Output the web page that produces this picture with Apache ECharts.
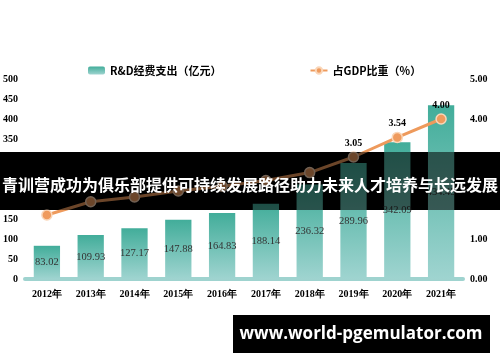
<!DOCTYPE html>
<html>
<head>
<meta charset="utf-8">
<script src="https://cdn.jsdelivr.net/npm/echarts@6/dist/echarts.min.js"></script>
<style>
html,body{margin:0;padding:0;background:#fff;}
#chart{width:500px;height:362px;}
</style>
</head>
<body>
<div id="chart"></div>
<script>
var categories = ['2012年','2013年','2014年','2015年','2016年','2017年','2018年','2019年','2020年','2021年'];
var rdSpend = [83.02,109.93,127.17,147.88,164.83,188.14,236.32,289.96,342.09,434.45];
var gdpShare = [1.60,1.93,2.05,2.20,2.32,2.46,2.66,3.05,3.54,4.00];
var seriesNames = ['R&D经费支出（亿元）','占GDP比重（%）'];
var bannerText = '青训营成功为俱乐部提供可持续发展路径助力未来人才培养与长远发展';
var watermarkText = 'www.world-pgemulator.com';

var chart = echarts.init(document.getElementById('chart'));
var axisFont = {color:'#000', fontWeight:'bold', fontSize:10, fontFamily:'Liberation Serif'};
chart.setOption({
  animation:false,
  backgroundColor:'#fff',
  legend:{
    left:83, top:60, itemGap:88, itemWidth:17, itemHeight:8,
    textStyle:{color:'#000', fontWeight:'bold', fontSize:11, fontFamily:'Noto Sans CJK SC'},
    data:seriesNames
  },
  grid:{left:25, right:37, top:79, bottom:83, containLabel:false},
  xAxis:{
    type:'category', data:categories,
    axisLine:{lineStyle:{color:'#9fd3cf', width:4}},
    axisTick:{show:false},
    axisLabel:Object.assign({margin:10}, axisFont)
  },
  yAxis:[{
    type:'value', min:0, max:500, interval:50,
    splitLine:{show:false}, axisLine:{show:false}, axisTick:{show:false},
    axisLabel:Object.assign({margin:7}, axisFont)
  },{
    type:'value', min:0, max:5, interval:1,
    splitLine:{show:false}, axisLine:{show:false}, axisTick:{show:false},
    axisLabel:Object.assign({margin:7, formatter:function(v){return v.toFixed(2);}}, axisFont)
  }],
  series:[{
    name:seriesNames[0], type:'bar', barWidth:'60%', data:rdSpend,
    itemStyle:{color:new echarts.graphic.LinearGradient(0,0,0,1,[{offset:0,color:'#42ad9a'},{offset:1,color:'#9fd4d0'}])},
    label:{show:true, position:'inside', color:'#333', fontSize:10.5, fontFamily:'Liberation Serif',
      formatter:function(p){return p.value.toFixed(2);}}
  },{
    name:seriesNames[1], type:'line', yAxisIndex:1, data:gdpShare,
    symbol:'circle', symbolSize:10,
    lineStyle:{color:'#ee9a5c', width:3},
    itemStyle:{color:'#ef9b5e', borderColor:'#fad6b8', borderWidth:1.5},
    label:{show:true, position:'top', distance:3, color:'#000', fontWeight:'bold', fontSize:10, fontFamily:'Liberation Serif',
      formatter:function(p){return p.value.toFixed(2);}}
  }],
  graphic:[
    {type:'rect', z:1, shape:{x:0,y:152,width:500,height:58}, style:{fill:'#000'}},
    {type:'rect', z:50, shape:{x:0,y:152,width:500,height:58}, style:{fill:'rgba(0,0,0,0.55)'}},
    {type:'text', z:51, x:250, y:185, style:{text:bannerText, fill:'#fff', fontSize:16, fontWeight:'bold',
      fontFamily:'Noto Sans CJK SC', align:'center', verticalAlign:'middle'}},
    {type:'rect', z:50, shape:{x:233,y:315,width:257,height:38}, style:{fill:'#000'}},
    {type:'text', z:51, x:361, y:334, style:{text:watermarkText, fill:'#fff', fontSize:17, fontWeight:'bold',
      fontFamily:'Open Sans', align:'center', verticalAlign:'middle'}}
  ]
});
</script>
</body>
</html>
